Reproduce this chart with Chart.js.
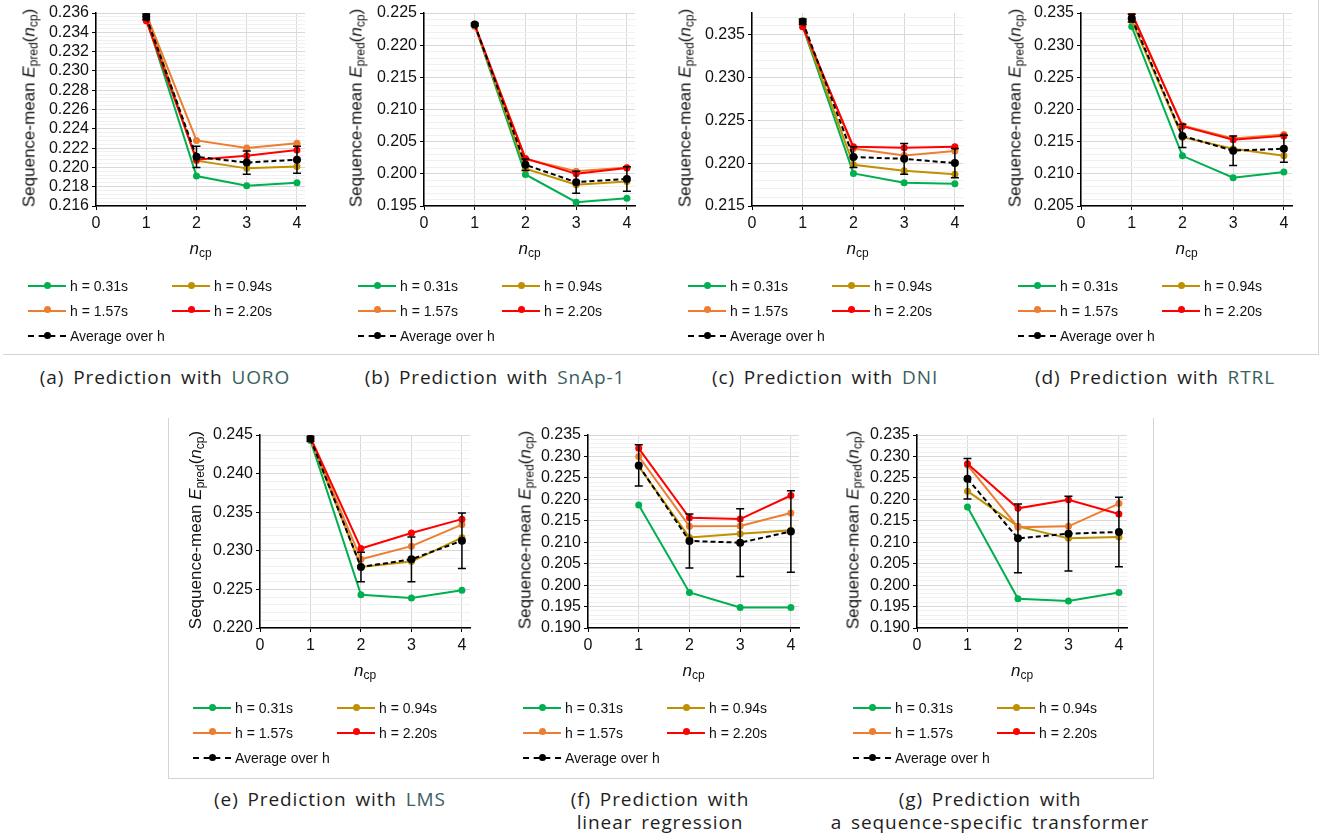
<!DOCTYPE html>
<html>
<head>
<meta charset="utf-8">
<script src="https://cdn.jsdelivr.net/npm/chart.js@4.4.0/dist/chart.umd.min.js"></script>
<style>
  body { margin: 0; background: #fff; width: 1325px; height: 839px; position: relative; overflow: hidden;
         font-family: "Liberation Sans", Arial, sans-serif; color: #111; }
  .panel { position: absolute; width: 330px; height: 420px; }
  .panel canvas { position: absolute; left: 0; top: 0; }
  .ytitle { position: absolute; white-space: nowrap; font-size: 17px; transform: translate(-50%, -50%) rotate(-90deg); }
  .xtitle { position: absolute; white-space: nowrap; font-size: 17px; transform: translate(-50%, -50%); }
  .ytitle sub, .xtitle sub { font-size: 12px; vertical-align: -3px; }
  .leg { position: absolute; height: 20px; line-height: 20px; font-size: 14px; white-space: nowrap; transform: translateY(-50%); }
  .sym { position: absolute; left: 0; top: 9px; width: 38px; height: 0; border-top: 2px solid; }
  .sym.dash { border-top-style: dashed; }
  .sym::after { content: ""; position: absolute; left: 15.5px; top: -5.5px; width: 7px; height: 7px; border-radius: 50%; background: currentColor; }
  .leg span.txt { position: absolute; left: 42px; top: 0; }
  .caption { position: absolute; left: -40px; width: 410px; top: 366px; text-align: center; white-space: nowrap;
             font-family: "Open Sans", Lato, sans-serif; font-size: 19px; line-height: 23px;
             letter-spacing: 0.9px; word-spacing: 3px; color: #1e1e1e; }
  .caption .m { color: #3a6060; }
  .sep { position: absolute; background: #d4d4d4; }
</style>
</head>
<body>
<script>
// x values and tick labels
const nCp = [1, 2, 3, 4];
const xTicks = [0, 1, 2, 3, 4];

const seriesNames = ['h = 0.31s', 'h = 0.94s', 'h = 1.57s', 'h = 2.20s'];
const seriesColors = ['#00b050', '#bf9000', '#ed7d31', '#ff0000'];
const avgName = 'Average over h';

// (a) UORO: green, gold, orange, red
const uoroValues = [
  [0.2354, 0.2191, 0.2181, 0.2184],
  [0.2360, 0.2207, 0.2199, 0.2201],
  [0.2359, 0.2228, 0.2220, 0.2225],
  [0.2352, 0.2208, 0.2212, 0.2218]
];
const uoroAvg = [0.2356, 0.2211, 0.2205, 0.2208];
const uoroErr = [0.0003, 0.0011, 0.0012, 0.0014];

// (b) SnAp-1
const snapValues = [
  [0.2231, 0.1999, 0.1956, 0.1962],
  [0.2231, 0.2008, 0.1983, 0.1988],
  [0.2229, 0.2023, 0.2004, 0.2010],
  [0.2232, 0.2024, 0.2000, 0.2009]
];
const snapAvg = [0.2232, 0.2014, 0.1987, 0.1992];
const snapErr = [0.0002, 0.0009, 0.0017, 0.0019];

// (c) DNI
const dniValues = [
  [0.2359, 0.2188, 0.2177, 0.2176],
  [0.2360, 0.2198, 0.2191, 0.2187],
  [0.2361, 0.2217, 0.2209, 0.2214],
  [0.2359, 0.2219, 0.2218, 0.2219]
];
const dniAvg = [0.2365, 0.2207, 0.2205, 0.2200];
const dniErr = [0.0003, 0.0012, 0.0018, 0.0017];

// (d) RTRL
const rtrlValues = [
  [0.2329, 0.2128, 0.2094, 0.2103],
  [0.2338, 0.2157, 0.2139, 0.2128],
  [0.2348, 0.2175, 0.2155, 0.2161],
  [0.2350, 0.2174, 0.2153, 0.2159]
];
const rtrlAvg = [0.2342, 0.2159, 0.2136, 0.2139];
const rtrlErr = [0.0006, 0.0018, 0.0023, 0.0021];

// (e) LMS
const lmsValues = [
  [0.2443, 0.2243, 0.2239, 0.2249],
  [0.2444, 0.2279, 0.2286, 0.2317],
  [0.2446, 0.2289, 0.2306, 0.2334],
  [0.2447, 0.2303, 0.2323, 0.2341]
];
const lmsAvg = [0.2445, 0.2279, 0.2289, 0.2313];
const lmsErr = [0.0003, 0.0019, 0.0029, 0.0036];

// (f) linear regression
const linregValues = [
  [0.2187, 0.1983, 0.1948, 0.1948],
  [0.2277, 0.2111, 0.2120, 0.2128],
  [0.2300, 0.2137, 0.2138, 0.2168],
  [0.2319, 0.2157, 0.2154, 0.2209]
];
const linregAvg = [0.2279, 0.2103, 0.2099, 0.2125];
const linregErr = [0.0048, 0.0063, 0.0079, 0.0095];

// (g) sequence-specific transformer
const transValues = [
  [0.2182, 0.1968, 0.1963, 0.1983],
  [0.2219, 0.2137, 0.2109, 0.2112],
  [0.2280, 0.2135, 0.2137, 0.2190],
  [0.2283, 0.2179, 0.2199, 0.2166]
];
const transAvg = [0.2248, 0.2109, 0.2120, 0.2124];
const transErr = [0.0047, 0.0080, 0.0087, 0.0081];

// axis ranges
const yMin = [0.216, 0.195, 0.215, 0.205, 0.220, 0.190, 0.190];
const yMax = [0.236, 0.225, 0.2375, 0.235, 0.245, 0.235, 0.235];
const yMajor = [0.002, 0.005, 0.005, 0.005, 0.005, 0.005, 0.005];
const yMinor = [0.0004, 0.001, 0.001, 0.001, 0.001, 0.001, 0.001];
const xMax = 4.16;

const captionTags = ['(a)', '(b)', '(c)', '(d)', '(e)', '(f)', '(g)'];
const captionMethods = ['UORO', 'SnAp-1', 'DNI', 'RTRL', 'LMS', 'linear regression', 'a sequence-specific transformer'];

const allValues = [uoroValues, snapValues, dniValues, rtrlValues, lmsValues, linregValues, transValues];
const allAvg = [uoroAvg, snapAvg, dniAvg, rtrlAvg, lmsAvg, linregAvg, transAvg];
const allErr = [uoroErr, snapErr, dniErr, rtrlErr, lmsErr, linregErr, transErr];

// layout of the panels
const panelLeft = [0, 330, 660, 990, 165, 495, 825];
const panelTop = [0, 0, 0, 0, 422, 422, 422];
const plotLeft = [96, 94, 92, 91, 95, 93, 92];
const plotRight = [305, 305, 303, 302, 305, 304, 302];
const yTitleX = [30, 27, 26, 26, 31, 31, 29];

Chart.defaults.font.family = '"Liberation Sans", Arial, sans-serif';
Chart.defaults.font.size = 16;
Chart.defaults.color = '#111';

const errorBars = {
  id: 'errorBars',
  afterDatasetsDraw(chart, args, opts) {
    const { ctx } = chart;
    const x = chart.scales.x, y = chart.scales.y;
    ctx.save();
    ctx.strokeStyle = '#000';
    ctx.lineWidth = 1.5;
    nCp.forEach((n, i) => {
      const px = x.getPixelForValue(n);
      const top = y.getPixelForValue(opts.avg[i] + opts.err[i]);
      const bot = y.getPixelForValue(opts.avg[i] - opts.err[i]);
      ctx.beginPath();
      ctx.moveTo(px, top); ctx.lineTo(px, bot);
      ctx.moveTo(px - 4, top); ctx.lineTo(px + 4, top);
      ctx.moveTo(px - 4, bot); ctx.lineTo(px + 4, bot);
      ctx.stroke();
    });
    ctx.restore();
  }
};

function isMajor(v, k) {
  const r = (v - yMin[k]) / yMajor[k];
  return Math.abs(r - Math.round(r)) < 1e-6;
}

function buildPanel(k) {
  const panel = document.createElement('div');
  panel.className = 'panel';
  panel.style.left = panelLeft[k] + 'px';
  panel.style.top = panelTop[k] + 'px';
  document.body.appendChild(panel);

  const canvas = document.createElement('canvas');
  canvas.width = 330;
  canvas.height = 240;
  panel.appendChild(canvas);

  const datasets = allValues[k].map((vals, i) => ({
    label: seriesNames[i],
    data: nCp.map((n, j) => ({ x: n, y: vals[j] })),
    borderColor: seriesColors[i],
    backgroundColor: seriesColors[i],
    borderWidth: 2,
    pointRadius: 3.5,
    pointBorderWidth: 0,
    tension: 0,
    order: 5 - i
  }));
  datasets.push({
    label: avgName,
    data: nCp.map((n, j) => ({ x: n, y: allAvg[k][j] })),
    borderColor: '#000',
    backgroundColor: '#000',
    borderWidth: 2,
    borderDash: [5, 3],
    pointRadius: 4,
    pointBorderWidth: 0,
    order: 0
  });

  new Chart(canvas, {
    type: 'line',
    data: { datasets: datasets },
    plugins: [errorBars],
    options: {
      responsive: false,
      animation: false,
      layout: { padding: { top: 13, right: 330 - plotRight[k], left: 0, bottom: 0 } },
      plugins: {
        legend: { display: false },
        tooltip: { enabled: false },
        errorBars: { avg: allAvg[k], err: allErr[k] }
      },
      scales: {
        x: {
          type: 'linear', min: 0, max: xMax, bounds: 'data',
          afterBuildTicks(scale) { scale.ticks = xTicks.map(v => ({ value: v })); },
          afterFit(scale) { scale.height = 34; },
          ticks: { autoSkip: false, maxRotation: 0, padding: 4, color: '#111' },
          grid: { color: '#d9d9d9', tickColor: '#000', tickLength: 4 },
          border: { color: '#000', width: 1.5 }
        },
        y: {
          type: 'linear', min: yMin[k], max: yMax[k], bounds: 'data',
          afterBuildTicks(scale) {
            const t = [];
            for (let i = 0; yMin[k] + i * yMinor[k] <= yMax[k] + 1e-9; i++) {
              t.push({ value: +(yMin[k] + i * yMinor[k]).toFixed(6) });
            }
            scale.ticks = t;
          },
          afterFit(scale) { scale.width = plotLeft[k]; },
          ticks: {
            autoSkip: false, padding: 3, color: '#111',
            callback: (v) => isMajor(v, k) ? v.toFixed(3) : ''
          },
          grid: {
            color: (c) => (c.tick && isMajor(c.tick.value, k)) ? '#d9d9d9' : '#f0f0f0',
            tickColor: (c) => (c.tick && isMajor(c.tick.value, k)) ? '#000' : 'rgba(0,0,0,0)',
            tickLength: 4
          },
          border: { color: '#000', width: 1.5 }
        }
      }
    }
  });

  // axis titles
  const yt = document.createElement('div');
  yt.className = 'ytitle';
  yt.style.left = yTitleX[k] + 'px';
  yt.style.top = '108px';
  yt.innerHTML = 'Sequence-mean <i>E</i><sub>pred</sub>(<i>n</i><sub>cp</sub>)';
  panel.appendChild(yt);

  const xt = document.createElement('div');
  xt.className = 'xtitle';
  xt.style.left = ((plotLeft[k] + plotRight[k]) / 2) + 'px';
  xt.style.top = '249px';
  xt.innerHTML = '<i>n</i><sub>cp</sub>';
  panel.appendChild(xt);

  // legend
  const legRows = [286, 286, 310.5, 310.5, 336];
  const legCols = [28, 172, 28, 172, 28];
  const names = seriesNames.concat([avgName]);
  const colors = seriesColors.concat(['#000']);
  names.forEach((name, i) => {
    const item = document.createElement('div');
    item.className = 'leg';
    item.style.left = legCols[i] + 'px';
    item.style.top = legRows[i] + 'px';
    item.innerHTML = '<div class="sym' + (i === 4 ? ' dash' : '') + '" style="color:' + colors[i] + '"></div><span class="txt">' + name + '</span>';
    panel.appendChild(item);
  });

  // caption
  const cap = document.createElement('div');
  cap.className = 'caption';
  if (k >= 5) {
    cap.innerHTML = captionTags[k] + ' Prediction with<br>' + captionMethods[k];
  } else {
    cap.innerHTML = captionTags[k] + ' Prediction with <span class="m">' + captionMethods[k] + '</span>';
  }
  panel.appendChild(cap);
}

for (let k = 0; k < 7; k++) buildPanel(k);

// thin frame lines around the figure parts
function sep(l, t, w, h) {
  const d = document.createElement('div');
  d.className = 'sep';
  d.style.cssText = 'left:' + l + 'px;top:' + t + 'px;width:' + w + 'px;height:' + h + 'px';
  document.body.appendChild(d);
}
sep(3, 354, 1316, 1);
sep(1318, 0, 1, 355);
sep(168, 418, 1, 360);
sep(1153, 418, 1, 360);
sep(168, 778, 986, 1);
</script>
</body>
</html>
